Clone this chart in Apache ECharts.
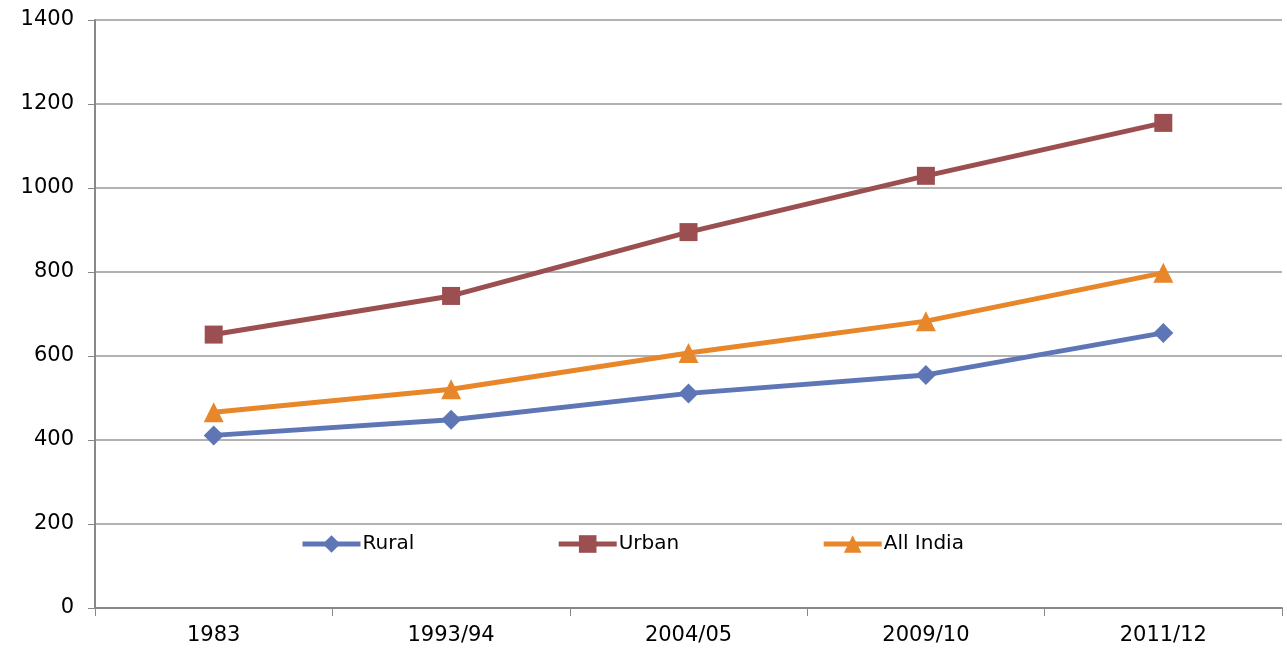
<!DOCTYPE html>
<html>
<head>
<meta charset="utf-8">
<script src="https://cdn.jsdelivr.net/npm/echarts@6/dist/echarts.min.js"></script>
<style>
html,body{margin:0;padding:0;background:#fff;}
#chart{width:1287px;height:653px;}
</style>
</head>
<body>
<div id="chart"></div>
<script>
// Periods along the horizontal axis
const categories = ['1983', '1993/94', '2004/05', '2009/10', '2011/12'];
// Series values
const rural = [411, 448, 511, 555, 655];
const urban = [651, 743, 895, 1029, 1155];
const allIndia = [466, 521, 607, 683, 798];

const FONT = 'DejaVu Sans';
const chart = echarts.init(document.getElementById('chart'));

function lineSeries(name, data, color, symbol, size) {
  return {
    name: name,
    type: 'line',
    data: data,
    symbol: symbol,
    symbolSize: size,
    itemStyle: { color: color },
    lineStyle: { color: color, width: 5 },
    animation: false
  };
}

chart.setOption({
  backgroundColor: '#ffffff',
  animation: false,
  grid: { left: 95, right: 5, top: 20, bottom: 45, containLabel: false },
  legend: {
    left: 295,
    top: 529,
    itemWidth: 58,
    itemHeight: 22,
    itemGap: 142,
    lineStyle: { width: 5 },
    textStyle: { fontFamily: FONT, fontSize: 20, color: '#000', padding: [0, 0, 0, -3] },
    data: ['Rural', 'Urban', 'All India']
  },
  xAxis: {
    type: 'category',
    data: categories,
    boundaryGap: true,
    axisLine: { lineStyle: { color: '#888', width: 2 } },
    axisTick: { show: true, length: 8, inside: false, lineStyle: { color: '#888', width: 1 } },
    axisLabel: { fontFamily: FONT, fontSize: 21, color: '#000', margin: 17 },
    splitLine: { show: false }
  },
  yAxis: {
    type: 'value',
    min: 0,
    max: 1400,
    interval: 200,
    axisLine: { show: true, lineStyle: { color: '#888', width: 2 } },
    axisTick: { show: true, length: 7, lineStyle: { color: '#888', width: 1 } },
    axisLabel: {
      fontFamily: FONT, fontSize: 21, color: '#000', margin: 21,
      formatter: function (v) { return String(v); }
    },
    splitLine: { show: true, lineStyle: { color: '#999', width: 1.5 } }
  },
  series: [
    lineSeries('Rural', rural, '#5e76b6', 'diamond', 20),
    lineSeries('Urban', urban, '#9b4f50', 'rect', 18),
    lineSeries('All India', allIndia, '#e8862a', 'triangle', 20)
  ]
});
</script>
</body>
</html>
